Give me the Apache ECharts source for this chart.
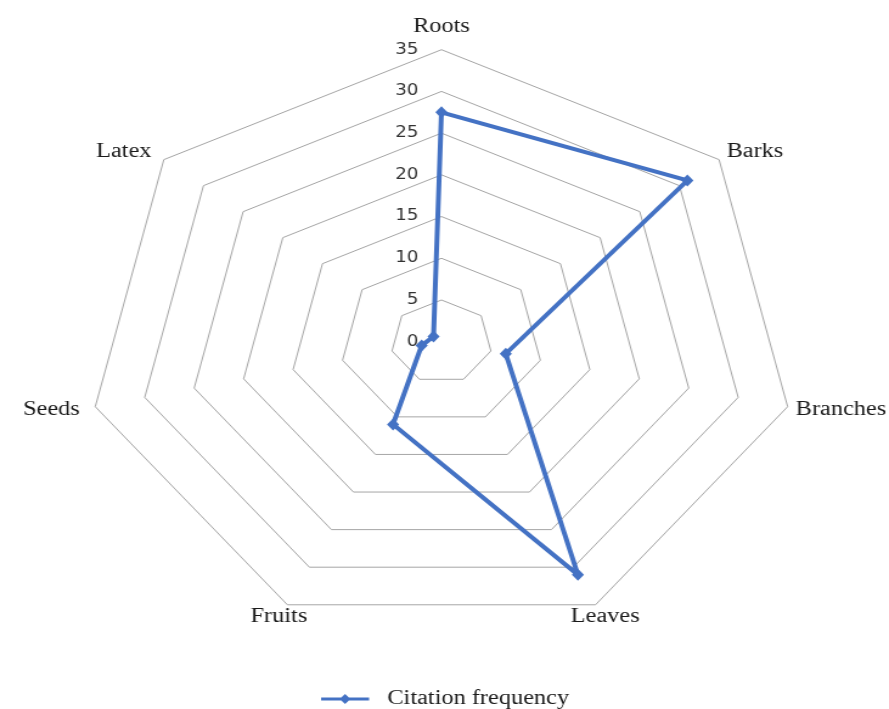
<!DOCTYPE html>
<html><head><meta charset="utf-8">
<script src="https://cdn.jsdelivr.net/npm/echarts@6/dist/echarts.min.js"></script>
<style>html,body{margin:0;padding:0;background:#fff;overflow:hidden}
#wrap{width:889px;height:709px;overflow:hidden;position:relative}
#c{width:731px;height:709px;transform:scaleX(1.2161);transform-origin:0 0;}
</style></head><body><div id="wrap"><div id="c"></div></div>
<script>
const categories = ['Roots', 'Barks', 'Branches', 'Leaves', 'Fruits', 'Seeds', 'Latex'];
const citationFrequency = [27.5, 31, 6.5, 31, 11, 2, 1];
const axisMin = 0;
const axisMax = 35;
const axisSplits = 7;
const seriesName = 'Citation frequency';

// ECharts lays radar indicators out counter-clockwise; reorder so they run clockwise.
const order = categories.map((_, i) => (categories.length - i) % categories.length);
const nameFont = 'Liberation Serif';
const nameColor = '#1a1a1a';
const chart = echarts.init(document.getElementById('c'), null, {renderer: 'canvas'});
const indicator = order.map((k, i) => {
  const o = {name: categories[k], min: axisMin, max: axisMax};
  if (i === 0) o.axisLabel = {show: true};
  return o;
});
const values = order.map(k => citationFrequency[k]);
const richKey = {Leaves: 'l', Fruits: 'f', Branches: 'b', Barks: 'k'};
function nameStyle(pad) {
  return {fontFamily: nameFont, fontSize: 20, color: nameColor, padding: pad};
}
chart.setOption({
  animation: false,
  backgroundColor: '#fff',
  legend: {
    data: [seriesName],
    left: 259, top: 684,
    icon: 'path://M0,3.5L40,3.5L40,6.5L0,6.5Z M20,0L24.5,5L20,10L15.5,5Z',
    itemWidth: 39.5, itemHeight: 10,
    textStyle: {fontFamily: nameFont, fontSize: 20, color: nameColor, padding: [0, 0, 0, 10]}
  },
  radar: {
    center: [363, 341.7],
    radius: 292,
    startAngle: 90,
    splitNumber: axisSplits,
    shape: 'polygon',
    indicator: indicator,
    nameGap: 13,
    axisName: {
      color: nameColor, fontFamily: nameFont, fontSize: 20,
      formatter: function (name) {
        const k = richKey[name];
        return k ? '{' + k + '|' + name + '}' : name;
      },
      rich: {
        l: nameStyle([0, 0, 0, -26]),
        f: nameStyle([0, -22, 0, 0]),
        b: nameStyle([0, 0, 0, -6]),
        k: nameStyle([0, 0, 0, -4])
      }
    },
    axisLine: {show: false},
    axisTick: {show: false},
    axisLabel: {show: false, color: '#333', fontFamily: 'DejaVu Sans', fontSize: 15, margin: 19},
    splitLine: {lineStyle: {color: '#a6a6a6', width: 1}},
    splitArea: {show: false}
  },
  series: [{
    type: 'radar',
    name: seriesName,
    symbol: 'diamond',
    symbolSize: [10, 12],
    lineStyle: {color: '#4472C4', width: 4},
    itemStyle: {color: '#4472C4'},
    data: [{value: values, name: seriesName}]
  }]
});
</script></body></html>
